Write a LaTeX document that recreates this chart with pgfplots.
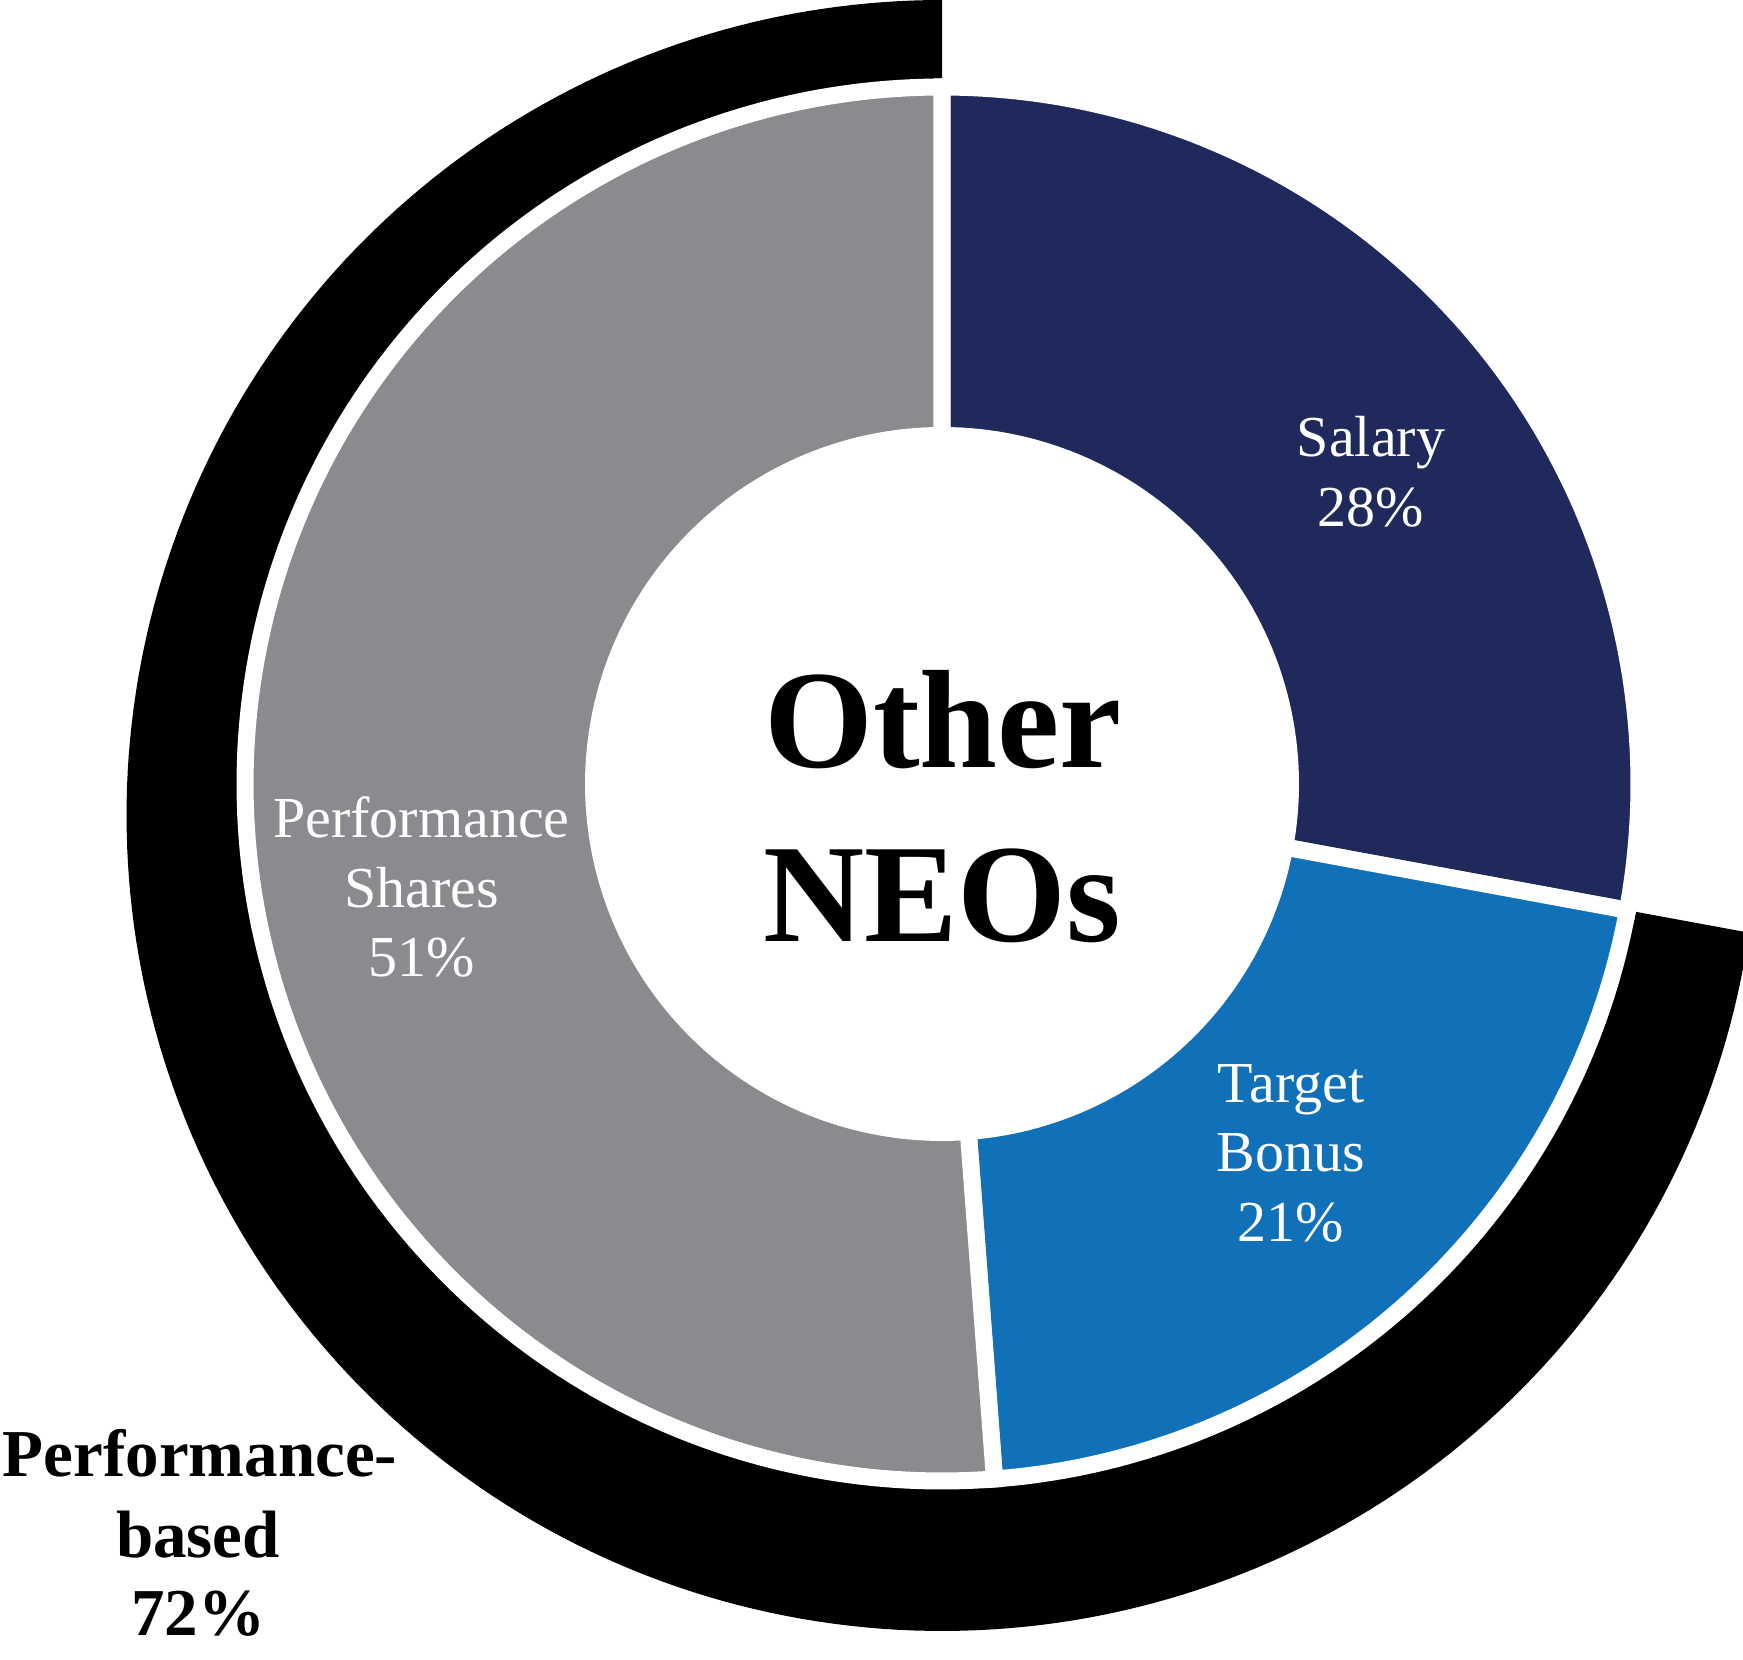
\documentclass[border=0pt]{standalone}
\usepackage{fontspec}
\setmainfont{Liberation Serif}
\usepackage{pgfplots}
\usepackage{pgfplotstable}
\pgfplotsset{compat=1.18}
\definecolor{navy}{RGB}{31,41,92}
\definecolor{bonusblue}{RGB}{16,112,184}
\definecolor{sharegray}{RGB}{138,139,143}
\pgfplotstableread{
part value
Salary 27.9
Bonus 20.9
Shares 51.2
}\pay
\pgfplotstablegetelem{0}{value}\of\pay
\pgfmathsetmacro{\aA}{3.6*\pgfplotsretval}
\pgfplotstablegetelem{1}{value}\of\pay
\pgfmathsetmacro{\aB}{\aA+3.6*\pgfplotsretval}
\begin{document}%
\begin{tikzpicture}
\begin{axis}[hide axis, scale only axis, width=871.5pt, height=829.5pt,
  xmin=0, xmax=1743, ymin=0, ymax=1659, clip=true]
\coordinate (BL) at (rel axis cs:0,0);
\coordinate (TR) at (rel axis cs:1,1);
% outer performance-based ring (72%)
\addplot[fill=black, draw=none, domain=\aA:360, samples=240]
  ({942+(-31.5*cos(x)+sqrt(815.5^2-31.5^2*sin(x)^2))*sin(x)},
   {875+(-31.5*cos(x)+sqrt(815.5^2-31.5^2*sin(x)^2))*cos(x)}) -- (942,875) -- cycle;
\addplot[fill=white, draw=none, domain=0:360, samples=240]
  ({942+704*sin(x)}, {875+704*cos(x)}) -- cycle;
% inner ring
\addplot[fill=navy, draw=white, line width=8.5pt, domain=0:\aA, samples=120]
  ({942+697*sin(x)}, {875+697*cos(x)}) -- (942,875) -- cycle;
\addplot[fill=bonusblue, draw=white, line width=8.5pt, domain=\aA:\aB, samples=120]
  ({942+697*sin(x)}, {875+697*cos(x)}) -- (942,875) -- cycle;
\addplot[fill=sharegray, draw=white, line width=8.5pt, domain=\aB:360, samples=200]
  ({942+697*sin(x)}, {875+697*cos(x)}) -- (942,875) -- cycle;
\addplot[fill=white, draw=none, domain=0:360, samples=240]
  ({942+357*sin(x)}, {875+357*cos(x)}) -- cycle;
% labels
\begin{scope}[every node/.style={inner sep=0pt, anchor=base}]
\node[font=\fontsize{70pt}{87pt}\selectfont\bfseries] at (943,891) {Other};
\node[font=\fontsize{70pt}{87pt}\selectfont\bfseries] at (942,717) {NEOs};
\node[text=white, font=\fontsize{29pt}{35pt}\selectfont] at (1371,1202) {Salary};
\node[text=white, font=\fontsize{29pt}{35pt}\selectfont] at (1371,1132) {28\%};
\node[text=white, font=\fontsize{29pt}{35pt}\selectfont] at (1291,556) {Target};
\node[text=white, font=\fontsize{29pt}{35pt}\selectfont] at (1291,487) {Bonus};
\node[text=white, font=\fontsize{29pt}{35pt}\selectfont] at (1291,417) {21\%};
\node[text=white, font=\fontsize{29pt}{35pt}\selectfont] at (421.5,821) {Performance};
\node[text=white, font=\fontsize{29pt}{35pt}\selectfont] at (421.5,751) {Shares};
\node[text=white, font=\fontsize{29pt}{35pt}\selectfont] at (421.5,682) {51\%};
\node[font=\fontsize{33.5pt}{40pt}\selectfont\bfseries] at (200,183) {Performance-};
\node[font=\fontsize{33.5pt}{40pt}\selectfont\bfseries] at (198,102) {based};
\node[font=\fontsize{33.5pt}{40pt}\selectfont\bfseries] at (198,24) {72\%};
\end{scope}
\end{axis}
\pgfresetboundingbox
\path (BL) rectangle (TR);
\end{tikzpicture}%
\end{document}
